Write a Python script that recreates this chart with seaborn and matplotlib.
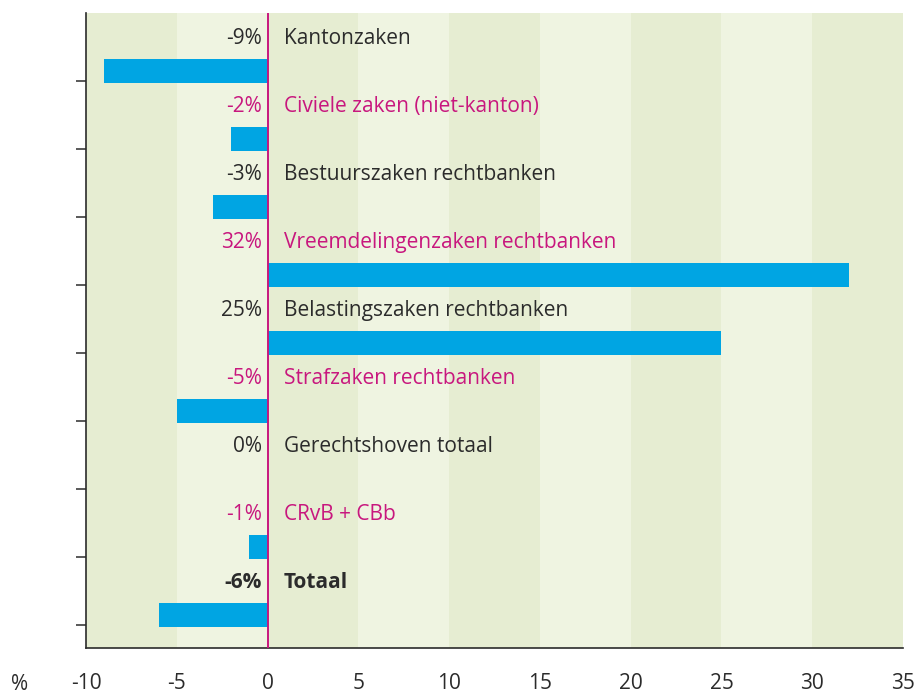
import numpy as np
import matplotlib
matplotlib.use("Agg")
import matplotlib.pyplot as plt
import seaborn as sns

# Data
categories = [
    "Kantonzaken",
    "Civiele zaken (niet-kanton)",
    "Bestuurszaken rechtbanken",
    "Vreemdelingenzaken rechtbanken",
    "Belastingszaken rechtbanken",
    "Strafzaken rechtbanken",
    "Gerechtshoven totaal",
    "CRvB + CBb",
    "Totaal",
]
changes = [-9, -2, -3, 32, 25, -5, 0, -1, -6]
x_ticks = [-10, -5, 0, 5, 10, 15, 20, 25, 30, 35]

BAR = "#00a5e3"
MAGENTA = "#c8177e"
DARK = "#2b2b2b"
BAND_DARK = "#e6edd2"
BAND_LIGHT = "#eff4e1"
FS = 15

sns.set_style("white")
plt.rcParams["font.family"] = ["Open Sans", "DejaVu Sans"]

fig = plt.figure(figsize=(9.15, 6.97), dpi=100)
ax = fig.add_axes([86 / 915, 1 - 648 / 697, (903 - 86) / 915, (648 - 13) / 697])
ax.set_facecolor(BAND_LIGHT)

# alternating vertical bands
for i, lo in enumerate(x_ticks[:-1]):
    ax.axvspan(lo, lo + 5, color=BAND_DARK if i % 2 == 0 else BAND_LIGHT,
               lw=0, zorder=0)

sns.barplot(x=changes, y=categories, orient="h", color=BAR, width=0.35,
            saturation=1, linewidth=0, ax=ax, zorder=2)

ax.axvline(0, color=MAGENTA, lw=1.4, zorder=3)

ax.set_xlim(-10, 35)
ax.set_ylim(8.485, -0.853)

# labels
for i, (cat, val) in enumerate(zip(categories, changes)):
    col = DARK if i % 2 == 0 else MAGENTA
    weight = "bold" if cat == "Totaal" else "normal"
    ax.text(-0.33, i - 0.48, f"{val}%", ha="right", va="center", color=col,
            fontsize=FS, fontweight=weight, zorder=4)
    ax.text(0.88, i - 0.48, cat, ha="left", va="center", color=col,
            fontsize=FS, fontweight=weight, zorder=4)

ax.set_yticks(np.arange(len(categories)) + 0.15)
ax.set_yticklabels([])
ax.set_xticks(x_ticks)
ax.set_xticklabels([str(t) for t in x_ticks])
ax.set_xlabel("")
ax.set_ylabel("")

ax.tick_params(axis="both", direction="out", length=7, width=1.1, color=DARK)
ax.tick_params(axis="x", pad=11, labelsize=FS, labelcolor=DARK)
ax.tick_params(axis="y", left=True)

for side in ["top", "right"]:
    ax.spines[side].set_visible(False)
for side in ["left", "bottom"]:
    ax.spines[side].set_color(DARK)
    ax.spines[side].set_linewidth(1.2)

fig.text(20 / 915, 1 - 684 / 697, "%", ha="center", va="center",
         fontsize=FS, color=DARK)

fig.savefig("out.png", dpi=100)
